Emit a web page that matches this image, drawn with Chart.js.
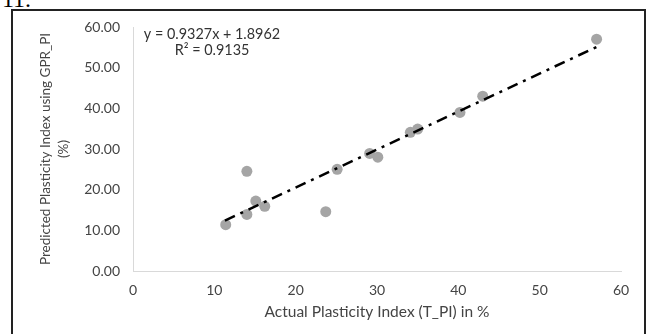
<!DOCTYPE html>
<html>
<head>
<meta charset="utf-8">
<script src="https://cdn.jsdelivr.net/npm/chart.js@4/dist/chart.umd.min.js"></script>
<style>
  html, body { margin: 0; padding: 0; background: #fff; }
  #wrap { position: relative; width: 648px; height: 334px; overflow: hidden; }
  #fig { position: absolute; left: 2px; top: -14px; font: 24px "Liberation Serif", serif; color: #000; }
  #frame { position: absolute; left: 11px; top: 9px; width: 631px; height: 340px; border: 2px solid #222; }
  canvas { position: absolute; left: 0; top: 0; }
</style>
</head>
<body>
<div id="wrap">
  <div id="fig">11.</div>
  <div id="frame"></div>
  <canvas id="chart" width="648" height="334"></canvas>
</div>
<script>
// observed points (actual vs predicted plasticity index)
const actualPI = [11.4, 14.0, 14.0, 15.1, 16.2, 23.7, 25.1, 29.1, 30.1, 34.1, 35.0, 40.2, 43.0, 57.0];
const predictedPI = [11.4, 24.5, 13.9, 17.2, 15.9, 14.6, 25.0, 28.9, 28.0, 34.1, 34.9, 39.0, 43.0, 57.0];

// trendline end points
const trendX = [11.3, 57.0];
const trendY = [12.4, 55.1];

const xTicks = [0, 10, 20, 30, 40, 50, 60];
const eqLines = ['y = 0.9327x + 1.8962', 'R\u00B2 = 0.9135'];

const txtColor = '#444444';
const fontFam = 'Lato, "Liberation Sans", sans-serif';

// regression equation box, top left of the plot
const eqLabel = {
  id: 'eqLabel',
  afterDatasetsDraw(chart) {
    const ctx = chart.ctx;
    ctx.save();
    ctx.fillStyle = '#333333';
    ctx.font = '14.4px ' + fontFam;
    ctx.textBaseline = 'middle';
    ctx.textAlign = 'center';
    ctx.fillText(eqLines[0], 212, 34);
    ctx.fillText(eqLines[1], 212, 50);
    ctx.restore();
  }
};

new Chart(document.getElementById('chart'), {
  type: 'scatter',
  data: {
    datasets: [
      {
        label: 'Trend',
        type: 'line',
        data: trendX.map((x, i) => ({ x: x, y: trendY[i] })),
        borderColor: '#000',
        borderWidth: 2.5,
        borderDash: [11, 6, 3, 6],
        pointRadius: 0,
        fill: false,
        order: 0
      },
      {
        label: 'GPR_PI',
        data: actualPI.map((x, i) => ({ x: x, y: predictedPI[i] })),
        backgroundColor: '#a5a5a5',
        borderColor: '#a5a5a5',
        borderWidth: 0,
        pointRadius: 5.5,
        order: 1
      }
    ]
  },
  options: {
    responsive: false,
    animation: false,
    layout: { padding: { left: 0, right: 27, top: 27, bottom: 0 } },
    plugins: {
      legend: { display: false },
      tooltip: { enabled: false }
    },
    scales: {
      x: {
        type: 'linear',
        min: 0,
        max: 60,
        afterBuildTicks: (s) => { s.ticks = xTicks.map(v => ({ value: v })); },
        afterFit: (s) => { s.height = 63; },
        grid: { display: false, drawTicks: false },
        border: { display: true, color: '#d9d9d9', width: 1 },
        ticks: { color: txtColor, padding: 11, font: { family: fontFam, size: 14 } },
        title: {
          display: true,
          text: 'Actual Plasticity Index (T_PI) in %',
          color: txtColor,
          font: { family: fontFam, size: 15.5 },
          padding: { top: 0, bottom: 12.7 }
        }
      },
      y: {
        min: 0,
        max: 60,
        afterFit: (s) => { s.width = 133; },
        grid: { display: false, drawTicks: false },
        border: { display: true, color: '#d9d9d9', width: 1 },
        ticks: {
          stepSize: 10,
          color: txtColor,
          padding: 13,
          font: { family: fontFam, size: 14 },
          callback: (v) => Number(v).toFixed(2)
        },
        title: {
          display: true,
          text: ['Predicted Plasticity Index using GPR_PI', '(%)'],
          color: txtColor,
          font: { family: fontFam, size: 13.5, lineHeight: 1.333 },
          padding: { top: 37, bottom: 0 }
        }
      }
    }
  },
  plugins: [eqLabel]
});
</script>
</body>
</html>
